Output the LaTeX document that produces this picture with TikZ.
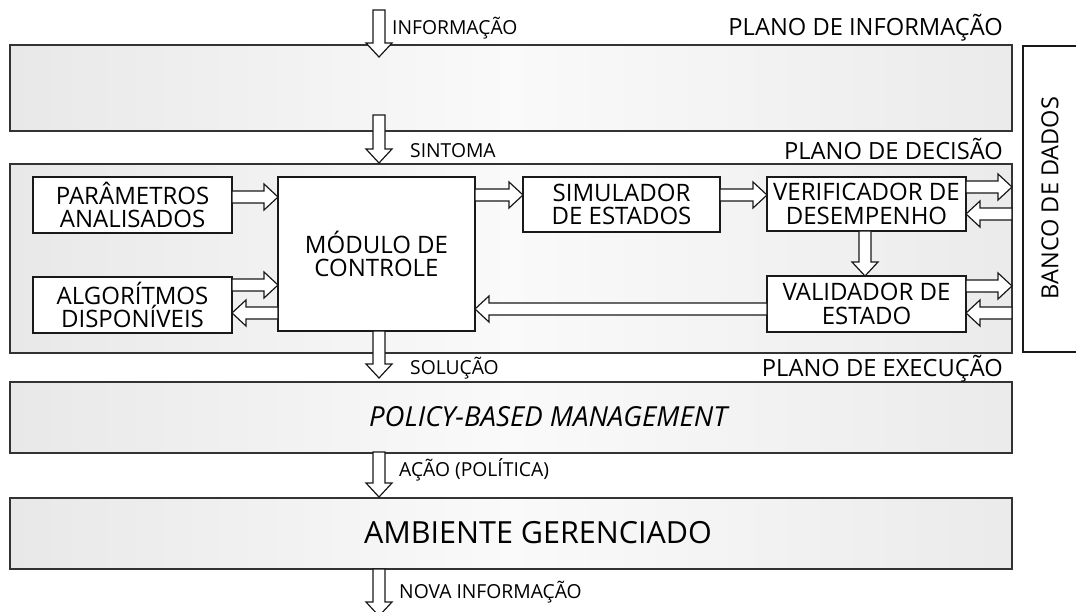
\documentclass[tikz,border=0pt]{standalone}
\usepackage{fontspec}
\setmainfont{Open Sans}
\usetikzlibrary{calc}
\tikzset{
  plane/.style={draw=black!80, line width=1.6pt, left color=gray!18, right color=gray!16, middle color=gray!4},
  boxn/.style={draw=black!90, line width=1.4pt, fill=white, inner sep=0pt, outer sep=0pt, align=center,
     font=\fontsize{24}{23.5}\selectfont},
  arrowbody/.style={draw=black!90, line width=1.2pt, fill=white, line join=miter},
  lbl/.style={font=\fontsize{19.3}{20}\selectfont, inner sep=0pt, anchor=base west},
  ttl/.style={font=\fontsize{23.7}{25}\selectfont, inner sep=0pt, anchor=base east},
}
\newcommand\sw{6pt}
\newcommand\hw{13pt}
\newcommand\hl{14pt}
\newcommand\barrow[2]{%
  \path (#2) coordinate (bb) ($(#2)!\hl!(#1)$) coordinate (hb);
  \draw[arrowbody] ($(#1)!\sw!90:(#2)$) -- ($(hb)!\sw!90:(bb)$) -- ($(hb)!\hw!90:(bb)$) -- (bb)
     -- ($(hb)!\hw!-90:(bb)$) -- ($(hb)!\sw!-90:(bb)$) -- ($(#1)!\sw!-90:(#2)$) -- cycle;}
\begin{document}
\begin{tikzpicture}[x=1pt,y=-1pt]
\useasboundingbox (0,0) rectangle (1076,612);
% planes
\path[plane] (10,45) rectangle (1012,131);
\path[plane] (10,164) rectangle (1012,353);
\path[plane] (10,382) rectangle (1012,453);
\path[plane] (10,498) rectangle (1012,569);
% banco de dados
\draw[black!90, line width=1.4pt] (1080,46) -- (1023,46) -- (1023,352) -- (1080,352);
\node[rotate=90, font=\fontsize{23.5}{25}\selectfont] (banco) at (1050,198) {BANCO DE DADOS};
% plane texts
\node[ttl] (t1) at (1003,36) {PLANO DE INFORMAÇÃO};
\node[ttl] (t2) at (1003,160) {PLANO DE DECISÃO};
\node[ttl] (t3) at (1003,376) {PLANO DE EXECUÇÃO};
\node[font=\fontsize{27.6}{28}\selectfont\itshape] (pbm) at (548,417) {POLICY-BASED MANAGEMENT};
\node[font=\fontsize{30.5}{32}\selectfont] (amb) at (538,533) {AMBIENTE GERENCIADO};
% boxes
\node[boxn, minimum width=199pt, minimum height=56pt] (parm) at (132.5,205) {PARÂMETROS\\ANALISADOS};
\node[boxn, minimum width=199pt, minimum height=56pt] (algo) at (132.5,305) {ALGORÍTMOS\\DISPONÍVEIS};
\node[boxn, minimum width=197pt, minimum height=154pt] (mod) at (376.5,254) {MÓDULO DE\\CONTROLE};
\node[boxn, minimum width=197pt, minimum height=55pt] (sim) at (621.5,204.5) {SIMULADOR\\DE ESTADOS};
\node[boxn, minimum width=199pt, minimum height=54pt] (verif) at (866.5,204) {VERIFICADOR DE\\DESEMPENHO};
\node[boxn, minimum width=199pt, minimum height=56pt] (valid) at (866.5,304) {VALIDADOR DE\\ESTADO};
% arrow end coordinates
\coordinate (i0) at (379,10);   \coordinate (i1) at (379,57);
\coordinate (s0) at (379,115);  \coordinate (s1) at (379,163);
\coordinate (o0) at (379,331);  \coordinate (o1) at (379,378);
\coordinate (a0) at (379,452);  \coordinate (a1) at (379,497);
\coordinate (n0) at (379,569);  \coordinate (n1) at (379,616);
\coordinate (pm0) at (232,197); \coordinate (pm1) at (278,197);
\coordinate (ms0) at (475,195); \coordinate (ms1) at (523,195);
\coordinate (sv0) at (720,195); \coordinate (sv1) at (767,195);
\coordinate (vb0) at (966,187); \coordinate (vb1) at (1012,187);
\coordinate (bv0) at (1012,214);\coordinate (bv1) at (966,214);
\coordinate (vv0) at (865,231); \coordinate (vv1) at (865,276);
\coordinate (lb0) at (966,286); \coordinate (lb1) at (1012,286);
\coordinate (bl0) at (1012,313);\coordinate (bl1) at (966,313);
\coordinate (lm0) at (767,309); \coordinate (lm1) at (475,309);
\coordinate (am0) at (232,285); \coordinate (am1) at (278,285);
\coordinate (ma0) at (278,313); \coordinate (ma1) at (232,313);
% arrows
\barrow{i0}{i1}
\barrow{s0}{s1}
\barrow{o0}{o1}
\barrow{a0}{a1}
\barrow{n0}{n1}
\barrow{pm0}{pm1}
\barrow{ms0}{ms1}
\barrow{sv0}{sv1}
\barrow{vb0}{vb1}
\barrow{bv0}{bv1}
\barrow{vv0}{vv1}
\barrow{lb0}{lb1}
\barrow{bl0}{bl1}
\barrow{lm0}{lm1}
\barrow{am0}{am1}
\barrow{ma0}{ma1}
% labels
\node[lbl] (l1) at (392,35) {INFORMAÇÃO};
\node[lbl] (l2) at (410,158) {SINTOMA};
\node[lbl] (l3) at (410,374) {SOLUÇÃO};
\node[lbl] (l4) at (399,476) {AÇÃO (POLÍTICA)};
\node[lbl] (l5) at (399,598) {NOVA INFORMAÇÃO};
\end{tikzpicture}
\end{document}
